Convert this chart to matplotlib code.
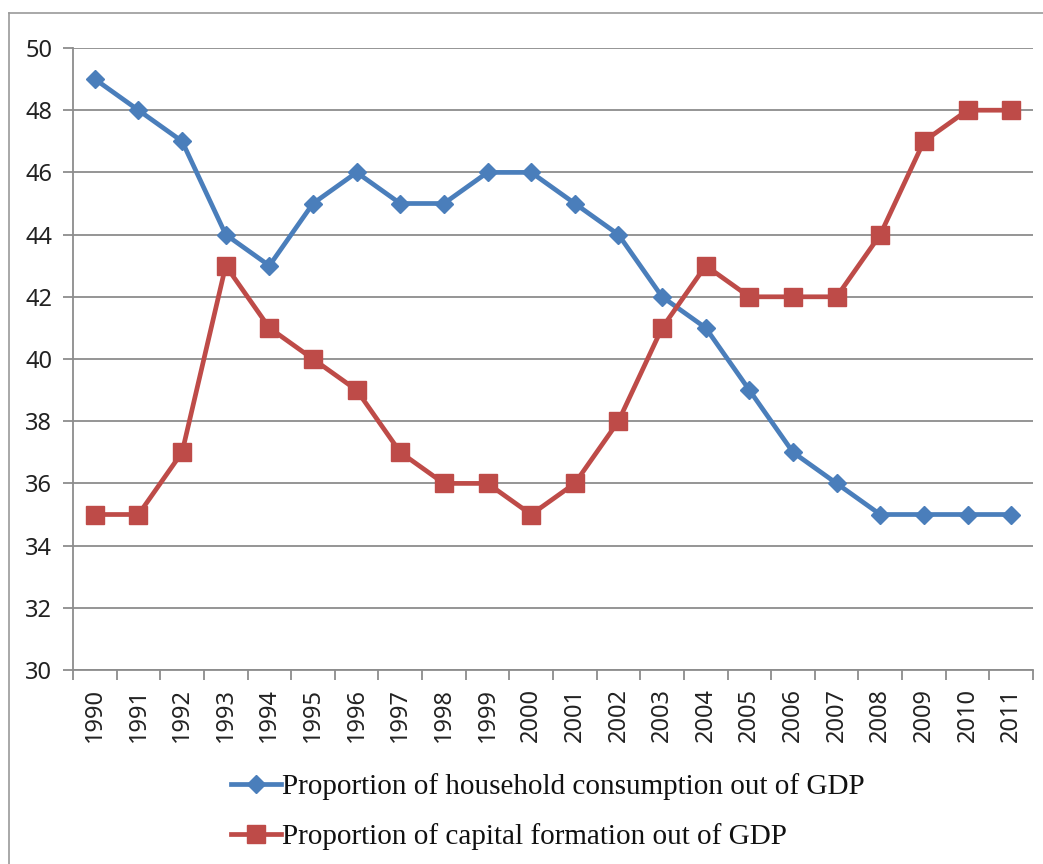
import matplotlib

matplotlib.use("Agg")
import matplotlib.pyplot as plt
from matplotlib.lines import Line2D

years = [str(y) for y in range(1990, 2012)]
household = [49, 48, 47, 44, 43, 45, 46, 45, 45, 46, 46, 45, 44, 42, 41, 39, 37, 36, 35, 35, 35, 35]
capital = [35, 35, 37, 43, 41, 40, 39, 37, 36, 36, 35, 36, 38, 41, 43, 42, 42, 42, 44, 47, 48, 48]
labels = [
    "Proportion of household consumption out of GDP",
    "Proportion of capital formation out of GDP",
]

BLUE = "#4a7ebb"
RED = "#be4b48"
GRID = "#8c8c8c"

plt.rcParams["font.family"] = ["Noto Sans", "DejaVu Sans"]

W, H = 1043, 864
fig = plt.figure(figsize=(W / 100, H / 100), dpi=100)
fig.patch.set_facecolor("white")

# outer chart border (left and top visible)
fig.add_artist(Line2D([9 / W, 9 / W], [0, 1 - 13 / H], color="#9a9a9a", lw=1.2))
fig.add_artist(Line2D([9 / W, 1], [1 - 13 / H, 1 - 13 / H], color="#9a9a9a", lw=1.2))

left, right, top, bottom = 73, 1033, 48, 670
ax = fig.add_axes([left / W, 1 - bottom / H, (right - left) / W, (bottom - top) / H])

x = list(range(len(years)))
ax.plot(x, household, color=BLUE, lw=3.4, marker="D", ms=9.5, zorder=3, label=labels[0])
ax.plot(x, capital, color=RED, lw=3.4, marker="s", ms=12.5, zorder=3, label=labels[1])

ax.set_xlim(-0.5, len(years) - 0.5)
ax.set_ylim(30, 50)
ax.set_yticks(range(30, 51, 2))
ax.set_xticks(x, years, rotation=90)
ax.set_xticks([i - 0.5 for i in range(len(years) + 1)], minor=True)
ax.tick_params(axis="x", which="major", length=0, pad=13, labelsize=17, labelcolor="#222222")
ax.tick_params(axis="x", which="minor", length=7, width=1.3, color=GRID, direction="out")
ax.tick_params(axis="y", length=7, width=1.3, color=GRID, pad=8, labelsize=17, labelcolor="#222222")
ax.grid(axis="y", color=GRID, lw=1.3)
ax.set_axisbelow(True)
for side in ("top", "right"):
    ax.spines[side].set_visible(False)
for side in ("left", "bottom"):
    ax.spines[side].set_color(GRID)
    ax.spines[side].set_linewidth(1.3)

handles = [
    Line2D([], [], color=BLUE, lw=3.4, marker="D", ms=9.5),
    Line2D([], [], color=RED, lw=3.4, marker="s", ms=12.5),
]
fig.legend(
    handles,
    labels,
    loc="upper left",
    bbox_to_anchor=(205 / W, 1 - 747 / H),
    frameon=False,
    prop={"family": "Liberation Serif", "size": 21},
    handlelength=1.7,
    handletextpad=0.05,
    labelspacing=0.78,
    labelcolor="#111111",
)

fig.savefig("out.png", dpi=100, facecolor="white")
